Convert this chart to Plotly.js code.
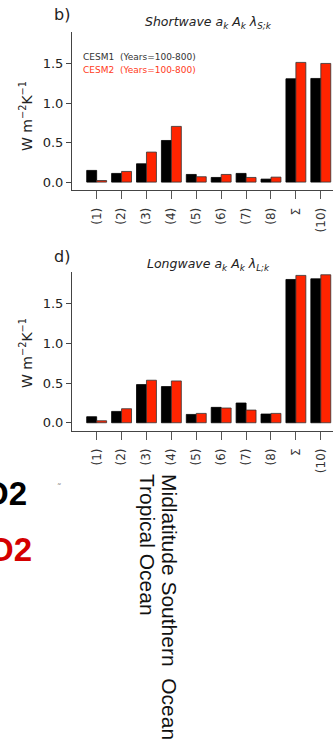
<!DOCTYPE html>
<html>
<head>
<meta charset="utf-8">
<script src="https://cdn.plot.ly/plotly-3.0.1.min.js"></script>
<style>
html,body{margin:0;padding:0;background:#fff;overflow:hidden;}
#chart{width:333px;height:739px;}
</style>
</head>
<body>
<div id="chart"></div>
<script>
const categories = ['(1)','(2)','(3)','(4)','(5)','(6)','(7)','(8)','\u03A3','(10)'];
const swCESM1 = [0.148,0.110,0.232,0.527,0.097,0.059,0.110,0.038,1.308,1.312];
const swCESM2 = [0.020,0.135,0.380,0.705,0.068,0.097,0.059,0.063,1.515,1.502];
const lwCESM1 = [0.076,0.143,0.481,0.456,0.105,0.194,0.249,0.110,1.806,1.814];
const lwCESM2 = [0.025,0.177,0.536,0.527,0.118,0.186,0.160,0.118,1.857,1.865];
const seriesNames = ['CESM1  (Years=100-800)','CESM2  (Years=100-800)'];
const yTicks = [0,0.5,1.0,1.5];
const yTickText = ['0.0','0.5','1.0','1.5'];

const W = 333, H = 739;
const px = x => x / W;
const py = y => 1 - y / H;

const BLACK = '#000000', RED = '#ff2400';

function bar(x, y, color, lineColor, xa, ya){
  return {type:'bar', x:x, y:y, xaxis:xa, yaxis:ya, showlegend:false,
    marker:{color:color, line:{color:lineColor, width:0.8}}, hoverinfo:'skip'};
}

const data = [
  bar(categories, swCESM1, BLACK, '#000', 'x', 'y'),
  bar(categories, swCESM2, RED, '#333', 'x', 'y'),
  bar(categories, lwCESM1, BLACK, '#000', 'x2', 'y2'),
  bar(categories, lwCESM2, RED, '#333', 'x2', 'y2')
];

function xax(anchor){
  return {anchor:anchor, domain:[px(72),1], type:'category', range:[-0.99,9.49],
    showline:true, linecolor:'#444', linewidth:1, ticks:'outside', ticklen:8, tickcolor:'#555',
    tickangle:-90, ticklabelstandoff:4, tickfont:{family:'DejaVu Sans', size:12, color:'#333'},
    showgrid:false, zeroline:false, fixedrange:true};
}
function yax(anchor, top, bottom){
  return {anchor:anchor, domain:[py(bottom), py(top)], range:[-0.1,1.9],
    showline:true, linecolor:'#444', linewidth:1, ticks:'outside', ticklen:5, tickcolor:'#444',
    tickvals:yTicks, ticktext:yTickText, tickfont:{family:'DejaVu Sans', size:13, color:'#222'},
    showgrid:false, zeroline:false, fixedrange:true};
}

function ann(text, x, y, opts){
  return Object.assign({text:text, x:px(x), y:py(y), xref:'paper', yref:'paper',
    showarrow:false, xanchor:'center', yanchor:'middle',
    font:{family:'DejaVu Sans', size:12, color:'#222'}}, opts||{});
}

const annotations = [
  ann('b)', 62, 14, {font:{family:'DejaVu Sans', size:16, color:'#222'}}),
  ann('<i>Shortwave a<sub>k</sub> A<sub>k</sub> \u03BB<sub>S;k</sub></i>', 209, 22, {font:{family:'DejaVu Sans', size:12.5, color:'#222'}}),
  ann(seriesNames[0], 81, 57, {xanchor:'left', font:{family:'DejaVu Sans', size:9, color:'#333'}}),
  ann(seriesNames[1], 81, 70, {xanchor:'left', font:{family:'DejaVu Sans', size:9, color:'#ff3a1a'}}),
  ann('W m<sup>\u22122</sup>K<sup>\u22121</sup>', 26, 116, {textangle:-90, font:{family:'DejaVu Sans', size:14, color:'#222'}}),
  ann('d)', 62, 256, {font:{family:'DejaVu Sans', size:16, color:'#222'}}),
  ann('<i>Longwave a<sub>k</sub> A<sub>k</sub> \u03BB<sub>L;k</sub></i>', 209, 264, {font:{family:'DejaVu Sans', size:12.5, color:'#222'}}),
  ann('W m<sup>\u22122</sup>K<sup>\u22121</sup>', 26, 353, {textangle:-90, font:{family:'DejaVu Sans', size:14, color:'#222'}}),
  ann('<b>O2</b>', 29, 493, {xanchor:'right', font:{family:'Liberation Sans', size:33, color:'#000'}}),
  ann('<b>O2</b>', 34, 549, {xanchor:'right', font:{family:'Liberation Sans', size:33, color:'#d40000'}}),
  ann('\u02DC', 59, 487, {font:{family:'DejaVu Sans', size:9, color:'#666'}}),
  ann('Tropical Ocean', 148, 472, {textangle:90, yanchor:'top', font:{family:'Liberation Sans', size:21, color:'#111'}}),
  ann('Midlatitude Southern  Ocean', 170, 472, {textangle:90, yanchor:'top', font:{family:'Liberation Sans', size:21, color:'#111'}})
];

const layout = {
  width:W, height:H, margin:{l:0,r:0,t:0,b:0,pad:0},
  paper_bgcolor:'#fff', plot_bgcolor:'#fff',
  barmode:'group', bargap:0.2, bargroupgap:0,
  showlegend:false,
  xaxis: xax('y'),
  yaxis: yax('x', 32, 190),
  xaxis2: xax('y2'),
  yaxis2: yax('x2', 272, 430.7),
  annotations: annotations
};

Plotly.newPlot('chart', data, layout, {staticPlot:true, displayModeBar:false});
</script>
</body>
</html>
